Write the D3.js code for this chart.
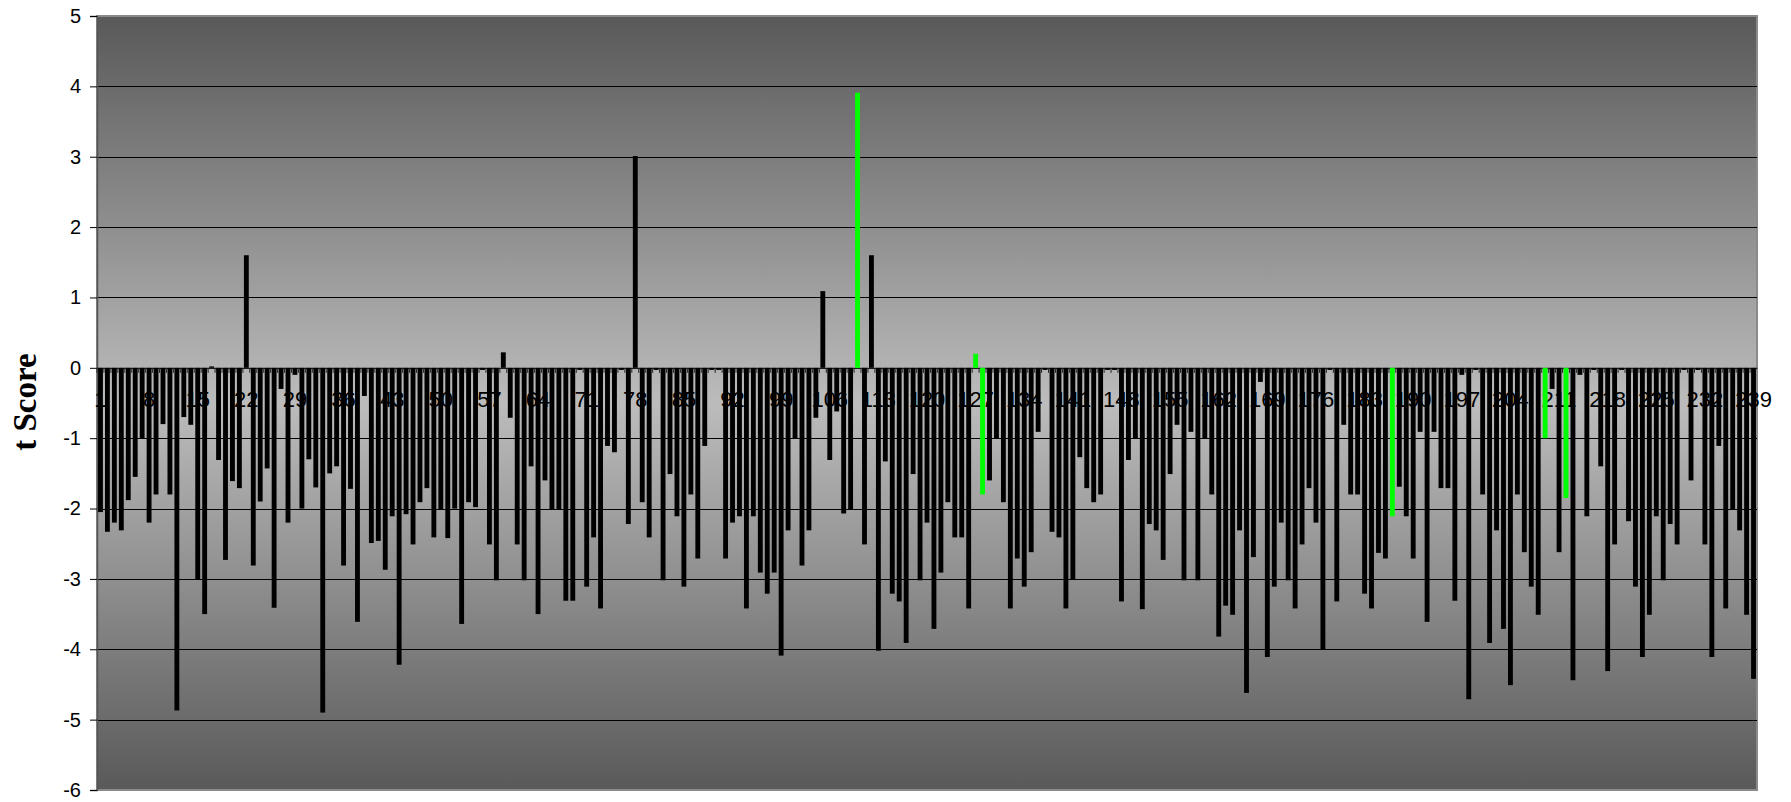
<!DOCTYPE html>
<html>
<head>
<meta charset="utf-8">
<script src="https://cdn.jsdelivr.net/npm/d3@7"></script>
<style>
  html, body { margin: 0; padding: 0; background: #fff; }
  svg { display: block; }
</style>
</head>
<body>
<svg id="chart" width="1791" height="802"></svg>
<script>
const tScores = [
  -2.05, -2.33, -2.2, -2.31, -1.88, -1.55, -1.0, -2.2, -1.8, -0.8,
  -1.8, -4.87, -0.7, -0.81, -3.01, -3.5, 0.02, -1.31, -2.73, -1.61,
  -1.71, 1.6, -2.81, -1.9, -1.43, -3.41, -0.3, -2.2, -0.1, -2.0,
  -1.3, -1.7, -4.9, -1.5, -1.4, -2.81, -1.72, -3.61, -0.4, -2.49,
  -2.46, -2.87, -2.11, -4.22, -2.08, -2.51, -1.91, -1.71, -2.41, -2.01,
  -2.42, -2.0, -3.64, -1.91, -1.98, -0.03, -2.51, -3.02, 0.22, -0.71,
  -2.51, -3.02, -1.4, -3.5, -1.6, -2.01, -2.01, -3.31, -3.31, -0.03,
  -3.11, -2.41, -3.42, -1.11, -1.2, -0.03, -2.22, 3.01, -1.91, -2.41,
  -0.03, -3.02, -1.51, -2.11, -3.11, -1.8, -2.71, -1.11, -0.03, -0.03,
  -2.71, -2.2, -2.11, -3.42, -2.11, -2.91, -3.21, -2.91, -4.09, -2.31,
  -1.0, -2.81, -2.31, -0.71, 1.09, -1.31, -0.62, -2.07, -2.01, 3.91,
  -2.51, 1.6, -4.02, -1.33, -3.21, -3.32, -3.91, -1.51, -3.02, -2.2,
  -3.71, -2.91, -1.91, -2.41, -2.41, -3.42, 0.2, -1.8, -1.6, -1.0,
  -1.91, -3.42, -2.71, -3.11, -2.62, -0.91, -0.03, -2.33, -2.41, -3.42,
  -3.01, -1.27, -1.71, -1.91, -1.8, -0.03, -0.03, -3.32, -1.31, -1.0,
  -3.43, -2.22, -2.31, -2.73, -1.51, -0.81, -3.02, -0.91, -3.02, -1.0,
  -1.8, -3.82, -3.38, -3.51, -2.31, -4.62, -2.69, -0.2, -4.11, -3.11,
  -2.2, -3.02, -3.42, -2.51, -1.71, -2.2, -4.01, -0.03, -3.32, -0.81,
  -1.8, -1.8, -3.21, -3.42, -2.63, -2.71, -2.11, -1.69, -2.11, -2.71,
  -0.91, -3.61, -0.91, -1.71, -1.71, -3.31, -0.1, -4.71, -0.03, -1.8,
  -3.91, -2.31, -3.71, -4.51, -1.8, -2.62, -3.11, -3.51, -1.0, -0.3,
  -2.62, -1.85, -4.44, -0.1, -2.11, -0.03, -1.4, -4.31, -2.51, -0.03,
  -2.18, -3.11, -4.11, -3.51, -2.11, -3.02, -2.22, -2.51, -0.03, -1.6,
  -0.03, -2.51, -4.11, -1.11, -3.42, -2.01, -2.31, -3.51, -4.42
];
const categories = tScores.map((_, i) => i + 1);
const highlighted = [110, 127, 128, 187, 209, 212];
const xTickLabels = [1, 8, 15, 22, 29, 36, 43, 50, 57, 64, 71, 78, 85, 92, 99, 106, 113, 120, 127, 134, 141, 148, 155, 162, 169, 176, 183, 190, 197, 204, 211, 218, 225, 232, 239];
const yTicks = [5, 4, 3, 2, 1, 0, -1, -2, -3, -4, -5, -6];
const yTitle = "t Score";

(function () {
const svg = d3.select("#chart");
const pLeft = 97, pRight = 1757, pTop = 16, pBottom = 790;

const x = d3.scaleBand().domain(categories).range([pLeft, pRight]).paddingInner(0.3).paddingOuter(0.15);
const y = d3.scaleLinear().domain([-6, 5]).range([pBottom, pTop]);

const defs = svg.append("defs");
const grad = defs.append("linearGradient").attr("id", "bg").attr("x1", 0).attr("y1", 0).attr("x2", 0).attr("y2", 1);
grad.append("stop").attr("offset", "0%").attr("stop-color", "#595959");
grad.append("stop").attr("offset", "50%").attr("stop-color", "#bcbcbc");
grad.append("stop").attr("offset", "100%").attr("stop-color", "#595959");

svg.append("rect").attr("x", pLeft).attr("y", pTop).attr("width", pRight - pLeft).attr("height", pBottom - pTop)
  .attr("fill", "url(#bg)").attr("stroke", "#8a8a8a").attr("stroke-width", 2);

// gridlines
svg.append("g").selectAll("line").data(yTicks.filter(d => d !== 5 && d !== -6)).join("line")
  .attr("x1", pLeft).attr("x2", pRight).attr("y1", d => Math.round(y(d)) + 0.5).attr("y2", d => Math.round(y(d)) + 0.5)
  .attr("stroke", "#000").attr("stroke-width", 1);

// y axis
const yAxis = d3.axisLeft(y).tickValues(yTicks).tickSize(7).tickPadding(9).tickFormat(d3.format("d"));
const gy = svg.append("g").attr("transform", `translate(${pLeft},0)`).call(yAxis);
gy.select(".domain").attr("stroke", "#555").attr("stroke-width", 1.5);
gy.selectAll(".tick line").attr("stroke", "#000");
gy.selectAll("text").attr("font-family", "Liberation Sans, Arial, sans-serif").attr("font-size", 20).attr("fill", "#000")
  .text(d => d < 0 ? "-" + Math.abs(d) : d);

// x labels (under bars)
svg.append("g").selectAll("text").data(xTickLabels).join("text")
  .attr("x", d => x(d) + x.bandwidth() / 2)
  .attr("y", y(0) + 39)
  .attr("text-anchor", "middle")
  .attr("font-family", "Liberation Sans, Arial, sans-serif")
  .attr("font-size", 22)
  .attr("fill", "#000")
  .text(d => d);

// x axis line with small ticks
const xAxis = d3.axisBottom(x).tickValues([]).tickSizeOuter(0);
const gx = svg.append("g").attr("transform", `translate(0,${y(0)})`).call(xAxis);
gx.select(".domain").attr("stroke", "#222").attr("stroke-width", 1);
svg.append("g").selectAll("line").data(categories).join("line")
  .attr("x1", d => x(d) - x.step() * x.paddingInner() / 2)
  .attr("x2", d => x(d) - x.step() * x.paddingInner() / 2)
  .attr("y1", y(0)).attr("y2", y(0) + 5)
  .attr("stroke", "#222").attr("stroke-width", 1);

// bars
svg.append("g").selectAll("rect").data(tScores.map((v, i) => ({ c: categories[i], v }))).join("rect")
  .attr("x", d => x(d.c))
  .attr("width", x.bandwidth())
  .attr("y", d => y(Math.max(0, d.v)))
  .attr("height", d => Math.abs(y(d.v) - y(0)))
  .attr("fill", d => highlighted.includes(d.c) ? "#00ff00" : "#000");

// y title
svg.append("text")
  .attr("transform", `translate(36,402) rotate(-90)`)
  .attr("text-anchor", "middle")
  .attr("font-family", "Liberation Serif, 'Times New Roman', serif")
  .attr("font-weight", "bold")
  .attr("font-size", 33)
  .attr("fill", "#000")
  .text(yTitle);
})();
</script>
</body>
</html>
